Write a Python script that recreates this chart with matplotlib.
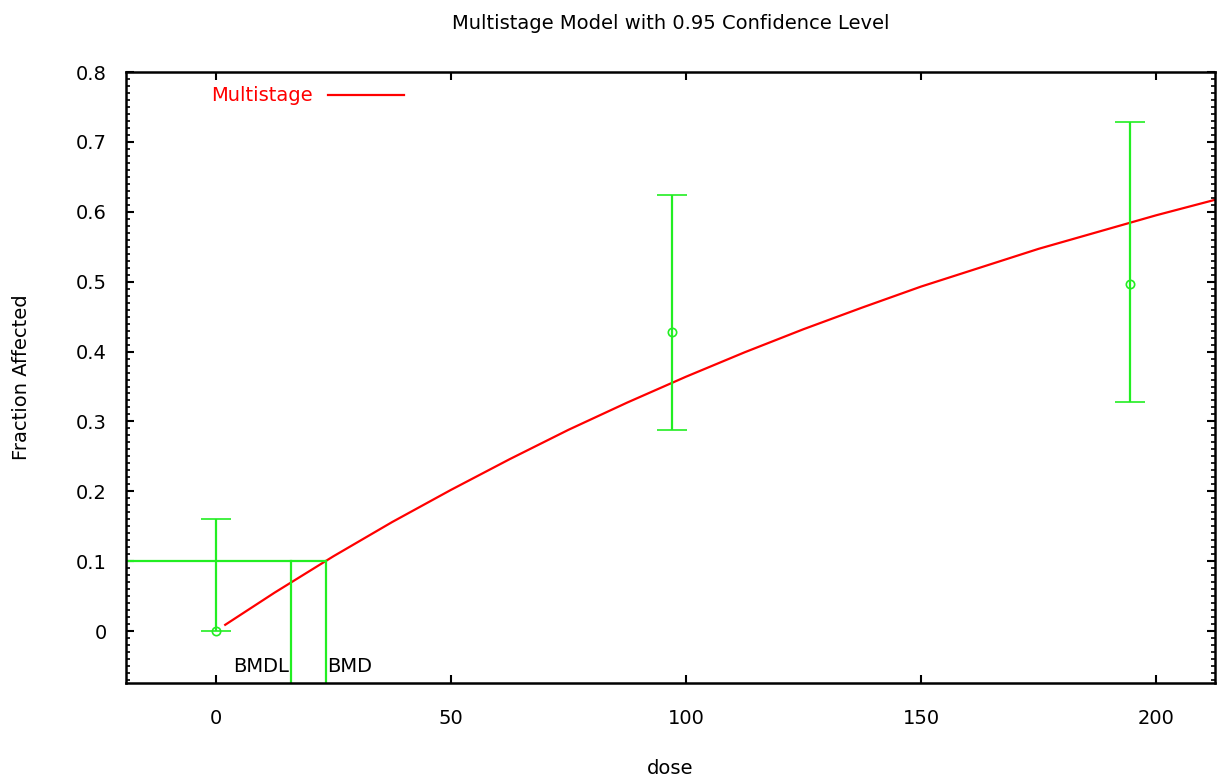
import matplotlib
matplotlib.use("Agg")
import matplotlib.pyplot as plt
from matplotlib.ticker import MultipleLocator

# observed data (dose, fraction affected, 95% CI)
dose = [0, 97, 194.5]
frac = [0.0, 0.428, 0.497]
lower = [0.0, 0.288, 0.328]
upper = [0.16, 0.624, 0.729]

# fitted multistage curve
curve_dose = [2, 12.5, 25, 37.5, 50, 62.5, 75, 87.5, 100, 112.5,
              125, 137.5, 150, 162.5, 175, 187.5, 200, 213]
curve_frac = [0.009, 0.055, 0.107, 0.156, 0.202, 0.246, 0.288, 0.327, 0.364,
              0.399, 0.432, 0.463, 0.493, 0.520, 0.547, 0.571, 0.595, 0.618]

bmr = 0.1
bmdl = 16.0
bmd = 23.4

plt.rcParams['font.family'] = ['DejaVu Sans']

fig = plt.figure(figsize=(12.21, 7.83), dpi=100)
ax = fig.add_axes([0.1032, 0.1277, 0.8918, 0.7803])

green = '#22ee22'
ax.plot(curve_dose, curve_frac, color='red', lw=1.6, label='Multistage')

yerr = [[f - l for f, l in zip(frac, lower)], [u - f for f, u in zip(frac, upper)]]
ax.errorbar(dose, frac, yerr=yerr, fmt='o', color=green, mfc='none', ms=6,
            mew=1.2, ecolor=green, elinewidth=1.6, capsize=11, capthick=1.6)

# BMD / BMDL markers
ax.plot([-19.1, bmd], [bmr, bmr], color=green, lw=1.6)
ax.plot([bmdl, bmdl], [bmr, -0.08], color=green, lw=1.6)
ax.plot([bmd, bmd], [bmr, -0.08], color=green, lw=1.6)
ax.text(bmdl - 0.5, -0.05, 'BMDL', ha='right', va='center', fontsize=14)
ax.text(bmd + 0.3, -0.05, 'BMD', ha='left', va='center', fontsize=14)

ax.set_xlim(-19.1, 212.5)
ax.set_ylim(-0.0743, 0.8)
ax.xaxis.set_major_locator(MultipleLocator(50))
ax.yaxis.set_major_locator(MultipleLocator(0.1))
ax.yaxis.set_minor_locator(MultipleLocator(0.01))
ax.yaxis.set_major_formatter(plt.FuncFormatter(lambda v, p: '0' if abs(v) < 1e-9 else f'{v:g}'))

ax.tick_params(axis='both', which='both', direction='in', top=True, right=True,
               labelsize=14, width=1.5)
ax.tick_params(axis='x', which='major', length=6, pad=19)
ax.tick_params(axis='y', which='major', length=6, pad=14)
ax.tick_params(axis='y', which='minor', length=3, width=1.2)
for s in ax.spines.values():
    s.set_linewidth(1.8)

ax.set_xlabel('dose', fontsize=14, labelpad=22)
ax.set_ylabel('Fraction Affected', fontsize=14, labelpad=32)
ax.set_title('Multistage Model with 0.95 Confidence Level', fontsize=14, pad=31)

ax.legend(loc='upper left', bbox_to_anchor=(0.062, 1.005), frameon=False,
          markerfirst=False, labelcolor='red', fontsize=14, handlelength=3.9,
          handletextpad=0.8)

fig.savefig('out.png', dpi=100)
